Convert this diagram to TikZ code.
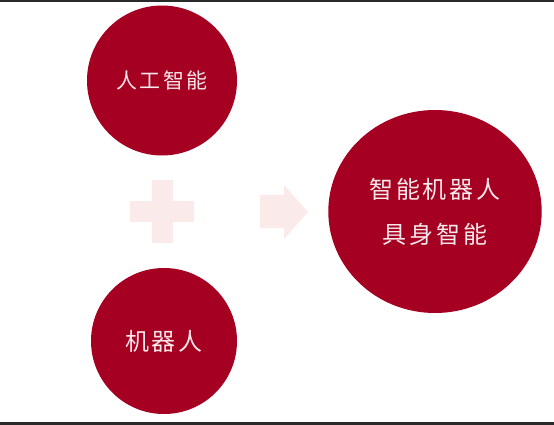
\documentclass[tikz,border=0pt]{standalone}
\usepackage{fontspec}
\newfontfamily\cjksmall[LetterSpace=10]{Noto Sans CJK SC}
\newfontfamily\cjkbig[LetterSpace=12]{Noto Sans CJK SC}
\usetikzlibrary{shapes.geometric}
\definecolor{bubred}{HTML}{A50021}
\definecolor{softpink}{HTML}{FBEAEA}
\definecolor{lighttext}{HTML}{F7E8EA}
\definecolor{edgegray}{HTML}{2A2A2A}
\tikzset{
  bubble/.style={circle, fill=bubred, draw=none, inner sep=0pt, text=lighttext, align=center},
  bigbubble/.style={ellipse, fill=bubred, draw=none, inner sep=0pt, text=lighttext, align=center},
  smalltxt/.style={font=\cjksmall\fontsize{21}{25}\selectfont},
  bigtxt/.style={font=\cjkbig\fontsize{24}{45}\selectfont},
}
\begin{document}
\begin{tikzpicture}[x=1pt,y=-1pt]
\useasboundingbox (0,0) rectangle (554,425);
\fill[white] (0,0) rectangle (554,425);
\fill[edgegray] (0,0) rectangle (554,1.6);
\fill[edgegray] (0,421.8) rectangle (554,425);
% plus sign
\fill[softpink] (130,201) rectangle (194,222);
\fill[softpink] (152,180) rectangle (173,243);
% arrow
\fill[softpink] (260,195) -- (284,195) -- (284,185) -- (308,212) -- (284,239) -- (284,228) -- (260,228) -- cycle;
% bubbles
\node[bubble, smalltxt, minimum size=150pt] (ai) at (162,80.5) {人工智能};
\node[bubble, bigtxt, minimum size=146pt] (robot) at (164,341) {机器人};
\node[bigbubble, bigtxt, minimum width=213.4pt, minimum height=203pt] (embodied) at (435,211.5) {智能机器人\\具身智能};
\end{tikzpicture}
\end{document}
